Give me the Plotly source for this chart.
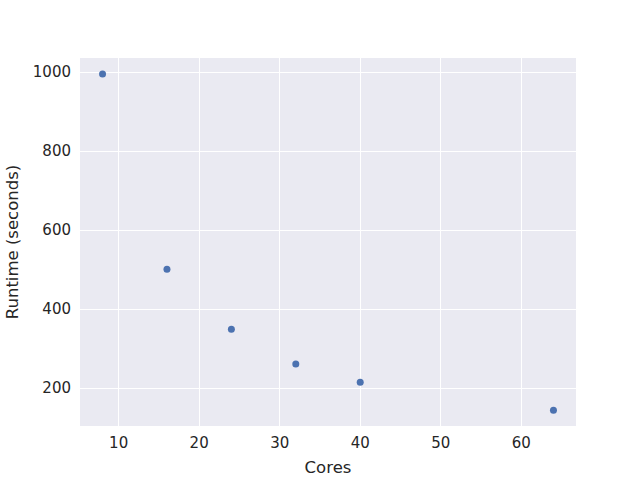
import plotly.graph_objects as go

cores = [8, 16, 24, 32, 40, 64]
runtime = [995, 501, 349, 261, 215, 144]

fig = go.Figure()
fig.add_trace(go.Scatter(
    x=cores, y=runtime, mode="markers",
    marker=dict(color="#4C72B0", size=7, line=dict(width=0)),
    showlegend=False,
))

font = "DejaVu Sans"
fig.update_layout(
    width=640, height=480,
    margin=dict(l=80, r=64, t=58, b=54, autoexpand=False),
    paper_bgcolor="white",
    plot_bgcolor="#EAEAF2",
    font=dict(family=font, color="#262626", size=15),
)
fig.update_xaxes(
    range=[5.2, 66.8], automargin=False,
    tickvals=[10, 20, 30, 40, 50, 60],
    showgrid=True, gridcolor="white", gridwidth=1.2,
    zeroline=False, showline=False, ticks="",
    ticklabelstandoff=6,
    tickfont=dict(size=15, family=font, color="#262626"),
    title=dict(text="Cores", font=dict(size=16.5, family=font, color="#262626"), standoff=10),
)
fig.update_yaxes(
    range=[104, 1035.5], automargin=False,
    tickvals=[200, 400, 600, 800, 1000],
    showgrid=True, gridcolor="white", gridwidth=1.2,
    zeroline=False, showline=False, ticks="",
    ticklabelstandoff=8,
    tickfont=dict(size=15, family=font, color="#262626"),
    title=dict(text="Runtime (seconds)", font=dict(size=16.5, family=font, color="#262626"), standoff=10),
)

fig.write_html("out.html")
